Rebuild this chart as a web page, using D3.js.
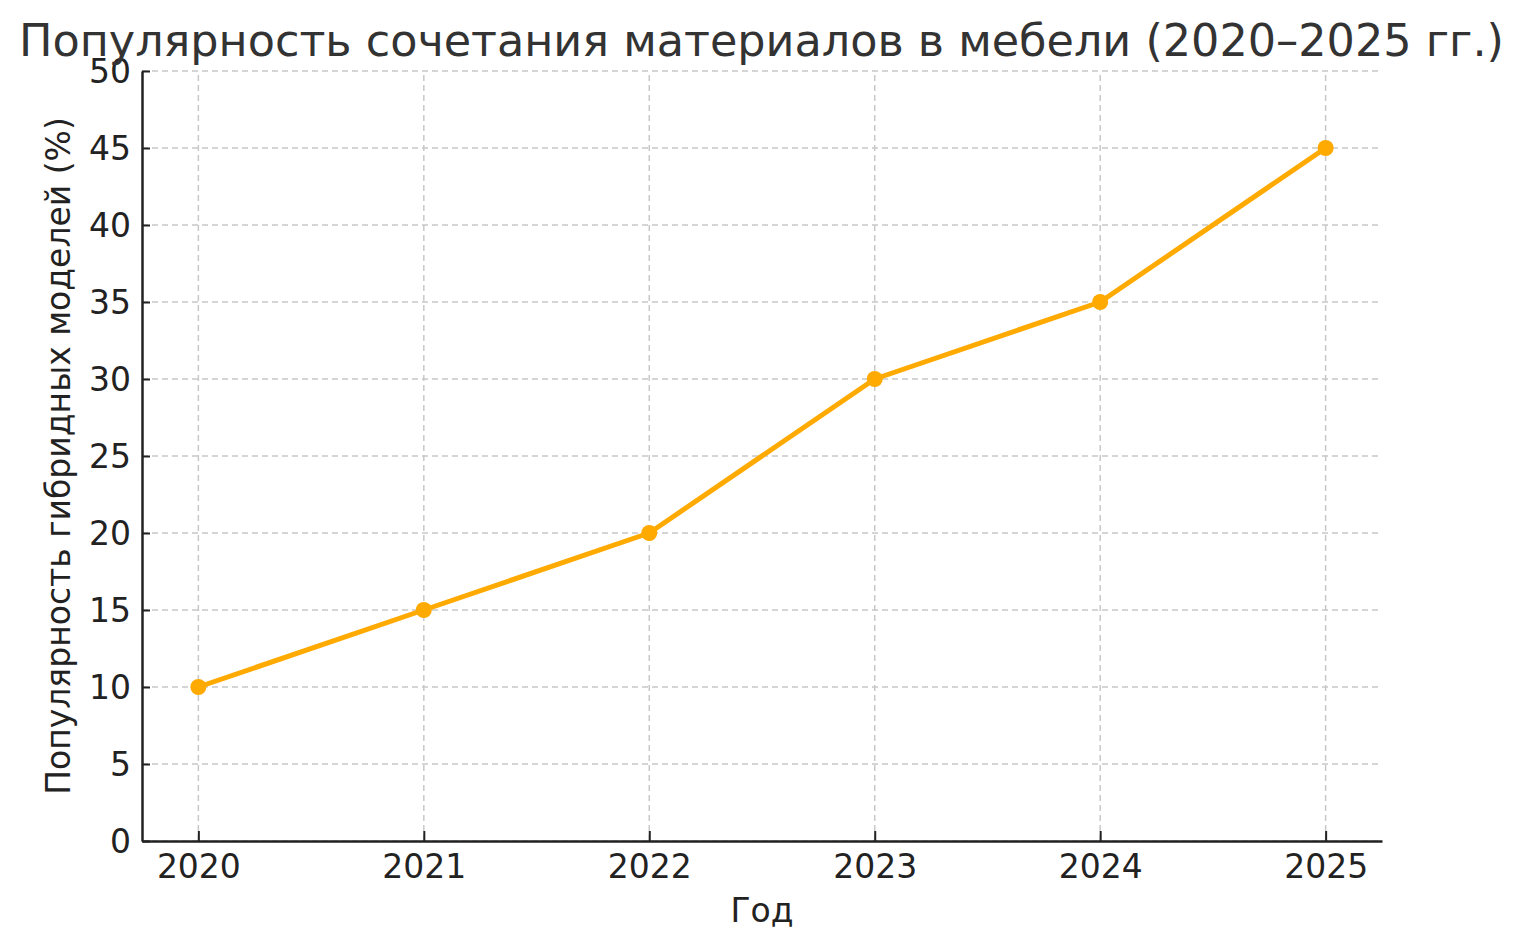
<!DOCTYPE html>
<html><head><meta charset="utf-8">
<script src="https://cdn.jsdelivr.net/npm/d3@7"></script>
<style>body{margin:0;background:#fff}svg{display:block}text{font-family:"DejaVu Sans",sans-serif}</style>
</head><body>
<script>
const years = [2020, 2021, 2022, 2023, 2024, 2025];
const popularity = [10, 15, 20, 30, 35, 45];
const yTicks = [0, 5, 10, 15, 20, 25, 30, 35, 40, 45, 50];
const title = "Популярность сочетания материалов в мебели (2020–2025 гг.)";
const xLabel = "Год";
const yLabel = "Популярность гибридных моделей (%)";

const W = 1523, H = 948;
const m = {left: 142, right: 141, top: 71, bottom: 107};
const svg = d3.select("body").append("svg").attr("width", W).attr("height", H);
const x = d3.scaleLinear().domain([2019.75, 2025.25]).range([m.left, W - m.right]);
const y = d3.scaleLinear().domain([0, 50]).range([H - m.bottom, m.top]);

const g = svg.append("g");
// grid
g.selectAll(".gx").data(years).join("line")
  .attr("x1", d => x(d)).attr("x2", d => x(d)).attr("y1", y(0)).attr("y2", y(50))
  .attr("stroke", "#c8c8c8").attr("stroke-width", 1.5).attr("stroke-dasharray", "6,4");
g.selectAll(".gy").data(yTicks).join("line")
  .attr("x1", x(2019.75)).attr("x2", x(2025.25)).attr("y1", d => y(d)).attr("y2", d => y(d))
  .attr("stroke", "#c8c8c8").attr("stroke-width", 1.5).attr("stroke-dasharray", "6,4");

// axes
const xAxis = d3.axisBottom(x).tickValues(years).tickFormat(d3.format("d")).tickSizeInner(-10).tickSizeOuter(0).tickPadding(14);
const yAxis = d3.axisLeft(y).tickValues(yTicks).tickSizeInner(-8).tickSizeOuter(0).tickPadding(11);
const gx = svg.append("g").attr("transform", `translate(0,${y(0)})`).call(xAxis);
const gy = svg.append("g").attr("transform", `translate(${x(2019.75)},0)`).call(yAxis);
[gx, gy].forEach(a => {
  a.select(".domain").attr("stroke", "#222").attr("stroke-width", 2.5);
  a.selectAll(".tick line").attr("stroke", "#222").attr("stroke-width", 2);
  a.selectAll(".tick text").attr("fill", "#222").style("font-size", "33px");
});
gy.selectAll(".tick text").attr("dy", "0.36em");

// line
const line = d3.line().x((d, i) => x(years[i])).y(d => y(d));
svg.append("path").datum(popularity).attr("d", line)
  .attr("fill", "none").attr("stroke", "#FFAA00").attr("stroke-width", 5).attr("stroke-linejoin", "round");
svg.selectAll(".pt").data(popularity).join("circle")
  .attr("cx", (d, i) => x(years[i])).attr("cy", d => y(d)).attr("r", 8).attr("fill", "#FFAA00");

// labels
svg.append("text").attr("x", W / 2).attr("y", 56).attr("text-anchor", "middle")
  .attr("fill", "#333").style("font-size", "44.5px").text(title);
svg.append("text").attr("x", (x(2019.75) + x(2025.25)) / 2).attr("y", 922).attr("text-anchor", "middle")
  .attr("fill", "#222").style("font-size", "33px").text(xLabel);
svg.append("text").attr("transform", `translate(70,${(y(0) + y(50)) / 2}) rotate(-90)`).attr("text-anchor", "middle")
  .attr("fill", "#222").style("font-size", "33px").text(yLabel);
</script>
</body></html>
